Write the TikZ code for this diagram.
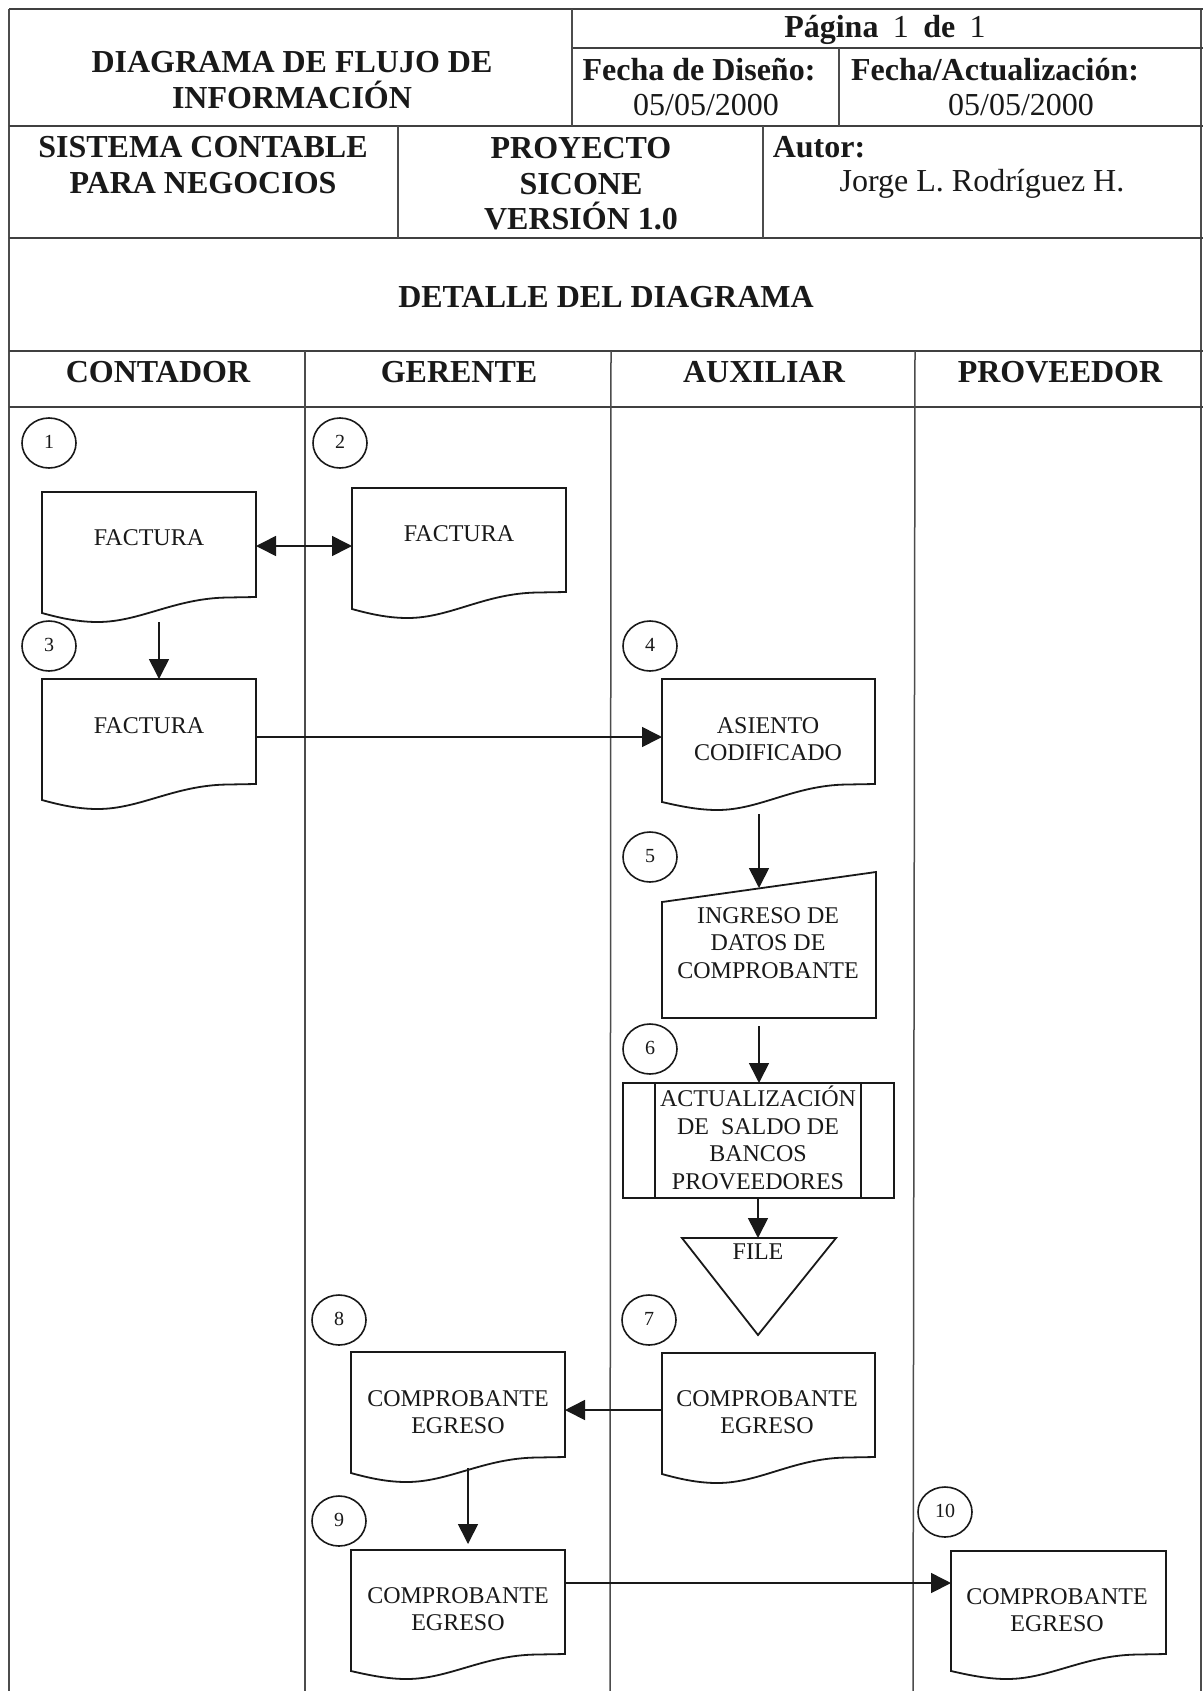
\documentclass[tikz,border=0pt]{standalone}
\usepackage{fontspec}
\setmainfont{Liberation Serif}
\usetikzlibrary{arrows.meta,calc,shapes.geometric}
\definecolor{ink}{gray}{0.1}
\tikzset{
  x=0.5pt,y=-0.5pt,
  every node/.style={inner sep=0pt,outer sep=0pt,text=ink},
  big/.style={font=\fontsize{16}{17.8}\selectfont,align=center},
  bigb/.style={font=\fontsize{16}{17.8}\selectfont\bfseries,align=center},
  lab/.style={font=\fontsize{12}{13.8}\selectfont,align=center},
  num/.style={font=\fontsize{10}{11}\selectfont},
  heavy/.style={line width=1.2pt,draw=black!75},
  thin rule/.style={line width=0.75pt,draw=black!70},
  shp/.style={line width=0.9pt,draw=ink,line join=miter},
  arr/.style={line width=0.8pt,draw=ink,-{Triangle[length=10pt,width=10pt]}},
  arrb/.style={line width=0.8pt,draw=ink,{Triangle[length=10pt,width=10pt]}-{Triangle[length=10pt,width=10pt]}},
  boxnode/.style={draw=none,rectangle},
  circ/.style={ellipse,draw=ink,line width=0.8pt,minimum width=27pt,minimum height=25pt},
}
% name, left, right, top, right-bottom, left-bottom, lowest point
\newcommand{\docshape}[7]{%
  \node[boxnode,minimum width={(#3-#2)*0.5},minimum height={(#7-#4)*0.5}] (#1) at ({(#2+#3)/2},{(#4+#7)/2}) {};
  \draw[shp] (#3,#5) -- (#3,#4) -- (#2,#4) -- (#2,#6)
    .. controls ({#2+.10*(#3-#2)},{#7-3}) and ({#2+.18*(#3-#2)},#7) .. ({#2+.26*(#3-#2)},#7)
    .. controls ({#2+.46*(#3-#2)},#7) and ({#2+.62*(#3-#2)},{#5+1}) .. ({#2+.87*(#3-#2)},{#5+0.5})
    -- cycle;
}
\newcommand{\dg}[1]{\raisebox{1pt}{#1}}
\begin{document}
\begin{tikzpicture}
\useasboundingbox[fill=white] (0,0) rectangle (1203,1691);
% table frame
\draw[thin rule] (9,9) -- (9,1691);
\draw[thin rule] (1201,9) -- (1201,1691);
\draw[heavy] (9,9) -- (1203,9);
\draw[heavy] (572,48) -- (1203,48);
\draw[heavy] (9,126) -- (1203,126);
\draw[heavy] (9,238) -- (1203,238);
\draw[heavy] (9,351) -- (1203,351);
\draw[heavy] (9,407) -- (1203,407);
\draw[thin rule] (572,9) -- (572,126);
\draw[thin rule] (839,48) -- (839,126);
\draw[thin rule] (398,126) -- (398,238);
\draw[thin rule] (763,126) -- (763,238);
\draw[thin rule] (305,351) -- (305,1691);
\draw[thin rule] (611,351) -- (610,1691);
\draw[thin rule] (915,351) -- (913,1691);
% header text
\node[bigb] (t1) at (292,80) {DIAGRAMA DE FLUJO DE\\INFORMACIÓN};
\node[big] (t2) at (885,30) {\textbf{Página}\hspace{0.45em}1\hspace{0.45em}\textbf{de}\hspace{0.45em}1};
\node[bigb] (t3) at (699,70) {Fecha de Diseño:};
\node[big] (t4) at (706,105) {05/05/2000};
\node[bigb] (t5) at (995,70) {Fecha/Actualización:};
\node[big] (t6) at (1021,105) {05/05/2000};
\node[bigb] (t7) at (203,165) {SISTEMA CONTABLE\\PARA NEGOCIOS};
\node[bigb] (t8) at (581,184) {PROYECTO\\SICONE\\VERSIÓN 1.0};
\node[bigb] (t9) at (819,147) {Autor:};
\node[big] (t10) at (982,184) {Jorge L. Rodríguez H.};
\node[bigb] (t11) at (606,297) {DETALLE DEL DIAGRAMA};
\node[bigb] (h1) at (158,372) {CONTADOR};
\node[bigb] (h2) at (459,372) {GERENTE};
\node[bigb] (h3) at (764,372) {AUXILIAR};
\node[bigb] (h4) at (1060,372) {PROVEEDOR};
% numbered circles
\node[circ,num] (c1) at (49,443) {\dg{1}};
\node[circ,num] (c2) at (340,443) {\dg{2}};
\node[circ,num] (c3) at (49,646) {\dg{3}};
\node[circ,num] (c4) at (650,646) {\dg{4}};
\node[circ,num] (c5) at (650,857) {\dg{5}};
\node[circ,num] (c6) at (650,1049) {\dg{6}};
\node[circ,num] (c7) at (649,1320) {\dg{7}};
\node[circ,num] (c8) at (339,1320) {\dg{8}};
\node[circ,num] (c9) at (339,1521) {\dg{9}};
\node[circ,num] (c10) at (945,1512) {\dg{10}};
% documents
\docshape{d1}{42}{256}{492}{597}{613}{622}
\docshape{d2}{352}{566}{488}{592}{609}{618}
\docshape{d3}{42}{256}{679}{784}{800}{809}
\docshape{d4}{662}{875}{679}{784}{802}{810}
\docshape{d7}{662}{875}{1353}{1457}{1474}{1483}
\docshape{d8}{351}{565}{1352}{1457}{1473}{1482}
\docshape{d9}{351}{565}{1550}{1654}{1671}{1679}
\docshape{d10}{951}{1166}{1551}{1654}{1671}{1679}
\node[lab] (l1) at (149,538) {FACTURA};
\node[lab] (l2) at (459,534) {FACTURA};
\node[lab] (l3) at (149,726) {FACTURA};
\node[lab] (l4) at (768,739) {ASIENTO\\CODIFICADO};
\node[lab] (l7) at (767,1412) {COMPROBANTE\\EGRESO};
\node[lab] (l8) at (458,1412) {COMPROBANTE\\EGRESO};
\node[lab] (l9) at (458,1609) {COMPROBANTE\\EGRESO};
\node[lab] (l10) at (1057,1610) {COMPROBANTE\\EGRESO};
% manual input
\node[boxnode,minimum width=107pt,minimum height=73pt] (m5) at (769,945) {};
\draw[shp] (662,902) -- (876,872) -- (876,1018) -- (662,1018) -- cycle;
\node[lab] (l5) at (768,943) {INGRESO DE\\DATOS DE\\COMPROBANTE};
% predefined process
\node[boxnode,minimum width=135.5pt,minimum height=57.5pt] (p6) at (758.5,1140.5) {};
\draw[shp] (623,1083) rectangle (894,1198);
\draw[shp] (655,1083) -- (655,1198);
\draw[shp] (861,1083) -- (861,1198);
\node[lab] (l6) at (758,1138) {ACTUALIZACIÓN\\DE\hspace{0.25em} SALDO DE\\BANCOS\\PROVEEDORES};
% merge (file)
\node[boxnode,minimum width=77pt,minimum height=48.5pt] (f) at (759,1286.5) {};
\draw[shp] (682,1238) -- (836,1238) -- (758,1335) -- cycle;
\node[lab] (lf) at (758,1252) {FILE};
% connectors
\coordinate (y12) at (0,546);
\coordinate (y34) at (0,737);
\coordinate (y78) at (0,1410);
\coordinate (y910) at (0,1583);
\coordinate (x13) at (159,0);
\coordinate (x45) at (759,0);
\coordinate (x67) at (758,0);
\coordinate (s89) at (468,1468);
\coordinate (e45) at (759,888);
\coordinate (e89) at (468,1544);
\draw[arrb] (d1.east |- y12) -- (d2.west |- y12);
\draw[arr] (x13 |- d1.south) -- (x13 |- d3.north);
\draw[arr] (d3.east |- y34) -- (d4.west |- y34);
\draw[arr] ($(x45 |- d4.south)+(0,4)$) -- (e45);
\draw[arr] ($(x45 |- m5.south)+(0,8)$) -- (x45 |- p6.north);
\draw[arr] (x67 |- p6.south) -- (x67 |- f.north);
\draw[arr] (d7.west |- y78) -- (d8.east |- y78);
\draw[arr] (s89) -- (e89);
\draw[arr] (d9.east |- y910) -- (d10.west |- y910);
\end{tikzpicture}
\end{document}
